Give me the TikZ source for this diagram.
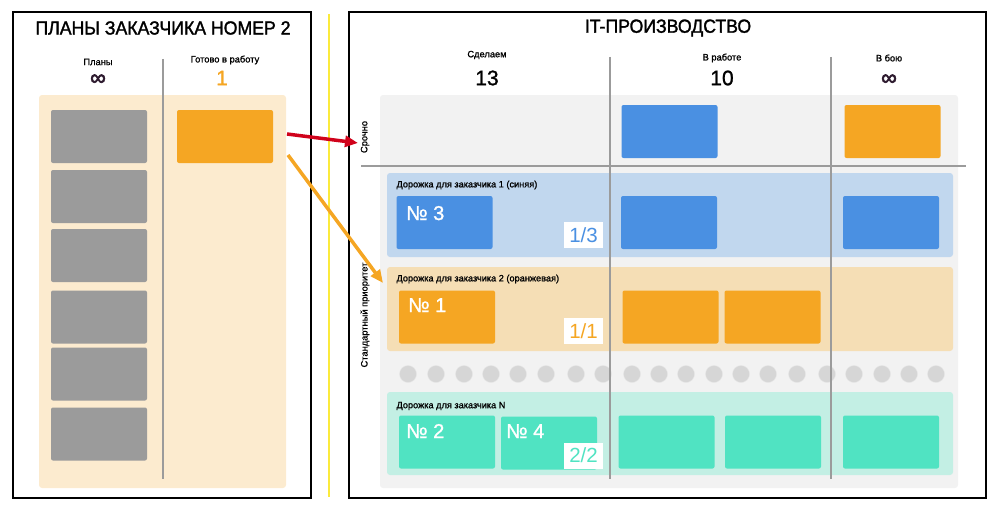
\documentclass[tikz,border=0pt]{standalone}
\usepackage{fontspec}
\setmainfont{Liberation Sans}
\newfontfamily\medfont[FakeBold=1.2]{Liberation Sans}
\newfontfamily\titlefont[FakeBold=1.6,FakeStretch=0.93]{Liberation Sans}
\newfontfamily\inffont[FakeBold=3]{Liberation Sans}
\usetikzlibrary{arrows.meta}
\definecolor{peach}{HTML}{FCEBCF}
\definecolor{cgray}{HTML}{9B9B9B}
\definecolor{corange}{HTML}{F5A623}
\definecolor{cblue}{HTML}{4A90E2}
\definecolor{cteal}{HTML}{50E3C2}
\definecolor{lblue}{HTML}{C1D7EE}
\definecolor{lorange}{HTML}{F5DEB5}
\definecolor{lteal}{HTML}{C3EFE4}
\definecolor{board}{HTML}{F2F2F2}
\definecolor{dot}{HTML}{D6D6D6}
\definecolor{cyellow}{HTML}{FBEA3C}
\definecolor{cred}{HTML}{D0021B}
\definecolor{inf}{HTML}{2D1A2E}

\begin{document}
\begin{tikzpicture}[x=1pt,y=-1pt,
  card/.style={fill=#1,minimum width=96pt,minimum height=53pt,inner sep=0pt,rounded corners=2pt},
  title/.style={font=\titlefont\fontsize{19}{19}\selectfont},
  head/.style={font=\medfont\fontsize{9.3}{9.3}\selectfont,inner sep=0pt},
  num/.style={font=\medfont\fontsize{21}{21}\selectfont},
  infty/.style={font=\inffont\fontsize{22}{22}\selectfont,text=inf,inner sep=0pt,
    text height=0.55em,text depth=0pt,anchor=base},
  lane/.style={font=\medfont\fontsize{9.2}{9.5}\selectfont,anchor=west},
  cardtext/.style={font=\medfont\fontsize{20}{20}\selectfont,text=white,anchor=base west,inner sep=0pt},
  count/.style={fill=white,minimum width=39pt,minimum height=26pt,inner sep=0pt,font=\fontsize{20.5}{20.5}\selectfont,text=#1},
  dotnode/.style={circle,fill=dot,draw=dot!60,minimum size=17pt,inner sep=0pt},
  divider/.style={draw=cgray,line width=2pt},
  arr/.style={line width=3.5pt,draw=#1,-{Triangle[length=13pt,width=11pt]}}]
  \useasboundingbox (0,0) rectangle (1000,511);

  % customer plans
  \draw[line width=1.2pt] (13,12) rectangle (311,498);
  \node[title] (t1) at (163,28) {ПЛАНЫ ЗАКАЗЧИКА НОМЕР 2};
  \node[head] (h1) at (98,62) {Планы};
  \node[infty] (n1) at (98,85) {∞};
  \node[head] (h2) at (225,60) {Готово в работу};
  \node[num,text=corange] (n2) at (222,78) {1};
  \fill[peach,rounded corners=3pt] (39,95) rectangle (286,488);
  \draw[divider] (163,59) -- (163,479);
  \node[card=cgray] (g1) at (99,136.5) {};
  \node[card=cgray] (g2) at (99,196.5) {};
  \node[card=cgray] (g3) at (99,255.5) {};
  \node[card=cgray] (g4) at (99,317) {};
  \node[card=cgray] (g5) at (99,374) {};
  \node[card=cgray] (g6) at (99,434) {};
  \node[card=corange] (rdy) at (225,136.5) {};

  \draw[cyellow,line width=2.5pt] (329,14) -- (329,497);

  % production
  \draw[line width=1.2pt] (349,12) rectangle (986,498);
  \node[title] (t2) at (668,28) {IT-ПРОИЗВОДСТВО};
  \node[head] (h3) at (487,55) {Сделаем};
  \node[num] (n3) at (487,78) {13};
  \node[head] (h4) at (722,58) {В работе};
  \node[num] (n4) at (722,78) {10};
  \node[head] (h5) at (889,58) {В бою};
  \node[infty] (n5) at (889,85) {∞};
  \fill[board,rounded corners=3pt] (380,95) rectangle (958,488);
  \draw[divider] (361,166) -- (966,166);
  \node[head,rotate=90] (srochno) at (365,137) {Срочно};
  \node[head,rotate=90] (std) at (365,315) {Стандартный приоритет};

  \fill[lblue,rounded corners=3pt] (387,173) rectangle (953,257);
  \fill[lorange,rounded corners=3pt] (387,267) rectangle (953,351);
  \fill[lteal,rounded corners=3pt] (387,392) rectangle (953,475);
  \node[lane] (l1) at (393,185) {Дорожка для заказчика 1 (синяя)};
  \node[lane] (l2) at (393,279) {Дорожка для заказчика 2 (оранжевая)};
  \node[lane] (l3) at (393,406) {Дорожка для заказчика N};

  \node[dotnode] (d1) at (408,374) {};
  \node[dotnode] (d2) at (436,374) {};
  \node[dotnode] (d3) at (464,374) {};
  \node[dotnode] (d4) at (491,374) {};
  \node[dotnode] (d5) at (518,374) {};
  \node[dotnode] (d6) at (546,374) {};
  \node[dotnode] (d7) at (576,374) {};
  \node[dotnode] (d8) at (603,374) {};
  \node[dotnode] (d9) at (632,374) {};
  \node[dotnode] (d10) at (659,374) {};
  \node[dotnode] (d11) at (686,374) {};
  \node[dotnode] (d12) at (714,374) {};
  \node[dotnode] (d13) at (741,374) {};
  \node[dotnode] (d14) at (768,374) {};
  \node[dotnode] (d15) at (797,374) {};
  \node[dotnode] (d16) at (827,374) {};
  \node[dotnode] (d17) at (854,374) {};
  \node[dotnode] (d18) at (882,374) {};
  \node[dotnode] (d19) at (909,374) {};
  \node[dotnode] (d20) at (936,374) {};

  \draw[divider] (610,57) -- (610,479);
  \draw[divider] (831,57) -- (831,479);

  \node[card=cblue] (u1) at (669.5,131.5) {};
  \node[card=corange] (u2) at (892.5,131.5) {};

  \node[card=cblue] (b1) at (444.5,222.5) {};
  \node[cardtext] (b1t) at (406,220) {№ 3};
  \node[count=cblue] (b1c) at (583.5,235) {1/3};
  \node[card=cblue] (b2) at (669,222.5) {};
  \node[card=cblue] (b3) at (891,222.5) {};

  \node[card=corange] (o1) at (447,317) {};
  \node[cardtext] (o1t) at (408,312) {№ 1};
  \node[count=corange] (o1c) at (583.5,331) {1/1};
  \node[card=corange] (o2) at (670.5,317) {};
  \node[card=corange] (o3) at (772.5,317) {};

  \node[card=cteal] (e1) at (447,442) {};
  \node[cardtext] (e1t) at (406,438) {№ 2};
  \node[card=cteal] (e2) at (549,443) {};
  \node[cardtext] (e2t) at (506,438) {№ 4};
  \node[count=cteal] (e2c) at (583.5,455.5) {2/2};
  \node[card=cteal] (e3) at (666.5,442) {};
  \node[card=cteal] (e4) at (773,442) {};
  \node[card=cteal] (e5) at (891,442) {};

  % arrows
  \coordinate (ra) at (287,134);
  \coordinate (rb) at (358,143);
  \coordinate (oa) at (288,155);
  \coordinate (ob) at (383,283);
  \draw[arr=cred] (ra) -- (rb);
  \draw[arr=corange] (oa) -- (ob);
\end{tikzpicture}
\end{document}
